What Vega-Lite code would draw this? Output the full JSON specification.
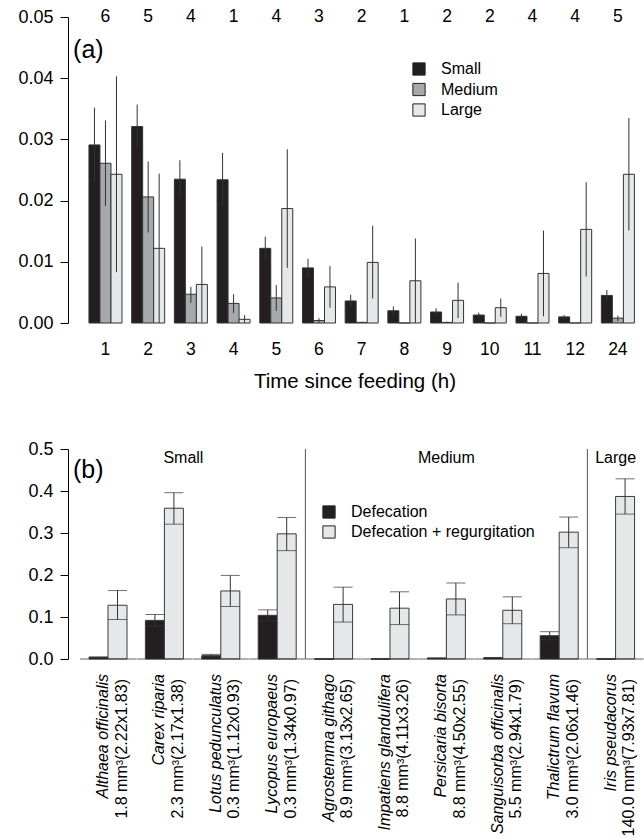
{
  "$schema": "https://vega.github.io/schema/vega-lite/v6.json",
  "padding": {"left": 17, "top": 8, "right": 0, "bottom": 0},
  "spacing": 48,
  "config": {
    "font": "Liberation Sans",
    "view": {"stroke": null},
    "axis": {"grid": false, "labelColor": "#000", "titleColor": "#000", "domainColor": "#000", "tickColor": "#000", "labelFont": "Liberation Sans", "titleFont": "Liberation Sans", "titleFontWeight": "normal"},
    "legend": {"labelFont": "Liberation Sans", "labelColor": "#000"},
    "text": {"color": "#000"}
  },
  "resolve": {"scale": {"x": "independent", "y": "independent", "color": "independent", "xOffset": "independent"}, "legend": {"color": "independent"}},
  "datasets": {
    "tc": [
      {"time": "1", "size": "Small", "mean": 0.0291, "lo": 0.0230, "hi": 0.0352},
      {"time": "1", "size": "Medium", "mean": 0.0261, "lo": 0.0191, "hi": 0.0331},
      {"time": "1", "size": "Large", "mean": 0.0243, "lo": 0.0083, "hi": 0.0403},
      {"time": "2", "size": "Small", "mean": 0.0321, "lo": 0.0285, "hi": 0.0357},
      {"time": "2", "size": "Medium", "mean": 0.0206, "lo": 0.0148, "hi": 0.0264},
      {"time": "2", "size": "Large", "mean": 0.0122, "lo": 0.0, "hi": 0.0244},
      {"time": "3", "size": "Small", "mean": 0.0235, "lo": 0.0204, "hi": 0.0266},
      {"time": "3", "size": "Medium", "mean": 0.0047, "lo": 0.0033, "hi": 0.0059},
      {"time": "3", "size": "Large", "mean": 0.0063, "lo": 0.0001, "hi": 0.0125},
      {"time": "4", "size": "Small", "mean": 0.0234, "lo": 0.0190, "hi": 0.0278},
      {"time": "4", "size": "Medium", "mean": 0.0032, "lo": 0.0016, "hi": 0.0047},
      {"time": "4", "size": "Large", "mean": 0.0006, "lo": 0.0, "hi": 0.0013},
      {"time": "5", "size": "Small", "mean": 0.0122, "lo": 0.0103, "hi": 0.0141},
      {"time": "5", "size": "Medium", "mean": 0.0041, "lo": 0.0020, "hi": 0.0062},
      {"time": "5", "size": "Large", "mean": 0.0187, "lo": 0.0090, "hi": 0.0284},
      {"time": "6", "size": "Small", "mean": 0.0090, "lo": 0.0075, "hi": 0.0105},
      {"time": "6", "size": "Medium", "mean": 0.0004, "lo": 0.0, "hi": 0.0008},
      {"time": "6", "size": "Large", "mean": 0.0059, "lo": 0.0025, "hi": 0.0093},
      {"time": "7", "size": "Small", "mean": 0.0036, "lo": 0.0026, "hi": 0.0046},
      {"time": "7", "size": "Medium", "mean": 0.0001, "lo": 0.0, "hi": 0.0002},
      {"time": "7", "size": "Large", "mean": 0.0099, "lo": 0.0040, "hi": 0.0159},
      {"time": "8", "size": "Small", "mean": 0.0020, "lo": 0.0013, "hi": 0.0027},
      {"time": "8", "size": "Medium", "mean": 0.0, "lo": 0.0, "hi": 0.0},
      {"time": "8", "size": "Large", "mean": 0.0069, "lo": 0.0, "hi": 0.0138},
      {"time": "9", "size": "Small", "mean": 0.0018, "lo": 0.0012, "hi": 0.0024},
      {"time": "9", "size": "Medium", "mean": 0.0001, "lo": 0.0, "hi": 0.0002},
      {"time": "9", "size": "Large", "mean": 0.0037, "lo": 0.0008, "hi": 0.0066},
      {"time": "10", "size": "Small", "mean": 0.0013, "lo": 0.0009, "hi": 0.0017},
      {"time": "10", "size": "Medium", "mean": 0.0, "lo": 0.0, "hi": 0.0},
      {"time": "10", "size": "Large", "mean": 0.0025, "lo": 0.0010, "hi": 0.0040},
      {"time": "11", "size": "Small", "mean": 0.0011, "lo": 0.0007, "hi": 0.0015},
      {"time": "11", "size": "Medium", "mean": 0.0, "lo": 0.0, "hi": 0.0},
      {"time": "11", "size": "Large", "mean": 0.0081, "lo": 0.0011, "hi": 0.0151},
      {"time": "12", "size": "Small", "mean": 0.0010, "lo": 0.0007, "hi": 0.0013},
      {"time": "12", "size": "Medium", "mean": 0.0, "lo": 0.0, "hi": 0.0},
      {"time": "12", "size": "Large", "mean": 0.0153, "lo": 0.0076, "hi": 0.0230},
      {"time": "24", "size": "Small", "mean": 0.0045, "lo": 0.0036, "hi": 0.0054},
      {"time": "24", "size": "Medium", "mean": 0.0008, "lo": 0.0003, "hi": 0.0012},
      {"time": "24", "size": "Large", "mean": 0.0243, "lo": 0.0151, "hi": 0.0335}
    ],
    "counts": [
      {"time": "1", "n": "6"}, {"time": "2", "n": "5"}, {"time": "3", "n": "4"}, {"time": "4", "n": "1"},
      {"time": "5", "n": "4"}, {"time": "6", "n": "3"}, {"time": "7", "n": "2"}, {"time": "8", "n": "1"},
      {"time": "9", "n": "2"}, {"time": "10", "n": "2"}, {"time": "11", "n": "4"}, {"time": "12", "n": "4"},
      {"time": "24", "n": "5"}
    ],
    "seeds": [
      {"species": "Althaea officinalis", "type": "Defecation", "mean": 0.004, "lo": 0.003, "hi": 0.005},
      {"species": "Althaea officinalis", "type": "Defecation + regurgitation", "mean": 0.128, "lo": 0.094, "hi": 0.163},
      {"species": "Carex riparia", "type": "Defecation", "mean": 0.092, "lo": 0.078, "hi": 0.106},
      {"species": "Carex riparia", "type": "Defecation + regurgitation", "mean": 0.359, "lo": 0.321, "hi": 0.396},
      {"species": "Lotus pedunculatus", "type": "Defecation", "mean": 0.008, "lo": 0.006, "hi": 0.011},
      {"species": "Lotus pedunculatus", "type": "Defecation + regurgitation", "mean": 0.162, "lo": 0.125, "hi": 0.199},
      {"species": "Lycopus europaeus", "type": "Defecation", "mean": 0.104, "lo": 0.091, "hi": 0.117},
      {"species": "Lycopus europaeus", "type": "Defecation + regurgitation", "mean": 0.298, "lo": 0.258, "hi": 0.337},
      {"species": "Agrostemma githago", "type": "Defecation", "mean": 0.0, "lo": 0.0, "hi": 0.0},
      {"species": "Agrostemma githago", "type": "Defecation + regurgitation", "mean": 0.130, "lo": 0.088, "hi": 0.171},
      {"species": "Impatiens glandulifera", "type": "Defecation", "mean": 0.0, "lo": 0.0, "hi": 0.0},
      {"species": "Impatiens glandulifera", "type": "Defecation + regurgitation", "mean": 0.121, "lo": 0.082, "hi": 0.160},
      {"species": "Persicaria bisorta", "type": "Defecation", "mean": 0.002, "lo": 0.002, "hi": 0.002},
      {"species": "Persicaria bisorta", "type": "Defecation + regurgitation", "mean": 0.143, "lo": 0.105, "hi": 0.181},
      {"species": "Sanguisorba officinalis", "type": "Defecation", "mean": 0.003, "lo": 0.003, "hi": 0.003},
      {"species": "Sanguisorba officinalis", "type": "Defecation + regurgitation", "mean": 0.116, "lo": 0.084, "hi": 0.148},
      {"species": "Thalictrum flavum", "type": "Defecation", "mean": 0.0555, "lo": 0.046, "hi": 0.065},
      {"species": "Thalictrum flavum", "type": "Defecation + regurgitation", "mean": 0.302, "lo": 0.265, "hi": 0.338},
      {"species": "Iris pseudacorus", "type": "Defecation", "mean": 0.0, "lo": 0.0, "hi": 0.0},
      {"species": "Iris pseudacorus", "type": "Defecation + regurgitation", "mean": 0.387, "lo": 0.345, "hi": 0.429}
    ],
    "species": [
      {"species": "Althaea officinalis", "dims": "1.8 mm³(2.22x1.83)"},
      {"species": "Carex riparia", "dims": "2.3 mm³(2.17x1.38)"},
      {"species": "Lotus pedunculatus", "dims": "0.3 mm³(1.12x0.93)"},
      {"species": "Lycopus europaeus", "dims": "0.3 mm³(1.34x0.97)"},
      {"species": "Agrostemma githago", "dims": "8.9 mm³(3.13x2.65)"},
      {"species": "Impatiens glandulifera", "dims": "8.8 mm³(4.11x3.26)"},
      {"species": "Persicaria bisorta", "dims": "8.8 mm³(4.50x2.55)"},
      {"species": "Sanguisorba officinalis", "dims": "5.5 mm³(2.94x1.79)"},
      {"species": "Thalictrum flavum", "dims": "3.0 mm³(2.06x1.46)"},
      {"species": "Iris pseudacorus", "dims": "140.0 mm³(7.93x7.81)"}
    ]
  },
  "vconcat": [
    {
      "width": 573,
      "height": 306,
      "layer": [
        {
          "data": {"name": "tc"},
          "mark": {"type": "bar", "stroke": "#333", "strokeWidth": 1},
          "encoding": {
            "x": {"field": "time", "type": "nominal",
              "scale": {"domain": ["1","2","3","4","5","6","7","8","9","10","11","12","24"], "paddingInner": 0.227, "paddingOuter": 0.323, "align": 0.76},
              "axis": {"title": "Time since feeding (h)", "labelAngle": 0, "labelFontSize": 17.5, "ticks": false, "tickSize": 0, "domain": false, "labelPadding": 17, "titleFontSize": 20.5, "titlePadding": 13.5}},
            "xOffset": {"field": "size", "type": "nominal", "scale": {"domain": ["Small","Medium","Large"], "paddingInner": 0, "paddingOuter": 0}},
            "y": {"field": "mean", "type": "quantitative", "scale": {"domain": [0, 0.05], "nice": false},
              "axis": {"title": null, "values": [0, 0.01, 0.02, 0.03, 0.04, 0.05], "format": ".2f", "labelFontSize": 18, "tickSize": 8, "labelPadding": 7, "labelFlush": false, "labelOverlap": false}},
            "color": {"field": "size", "type": "nominal", "scale": {"domain": ["Small","Medium","Large"], "range": ["#231f20","#a7a9ac","#e6e7e8"]},
              "legend": {"orient": "none", "legendX": 343, "legendY": 44, "title": null, "symbolType": "square", "symbolSize": 150, "symbolStrokeColor": "#222", "symbolStrokeWidth": 1, "symbolOpacity": 1, "labelFontSize": 16, "labelOffset": 14, "rowPadding": 2.5, "padding": 0}}
          }
        },
        {
          "data": {"name": "tc"},
          "mark": {"type": "rule", "color": "#333", "strokeWidth": 1},
          "encoding": {
            "x": {"field": "time", "type": "nominal"},
            "xOffset": {"field": "size", "type": "nominal"},
            "y": {"field": "lo", "type": "quantitative"},
            "y2": {"field": "hi"}
          }
        },
        {
          "data": {"name": "counts"},
          "mark": {"type": "text", "fontSize": 17.5, "baseline": "middle"},
          "encoding": {
            "x": {"field": "time", "type": "nominal"},
            "y": {"datum": 0.05, "type": "quantitative"},
            "text": {"field": "n"}
          }
        },
        {
          "data": {"values": [{"time": "1", "label": "(a)"}]},
          "mark": {"type": "text", "fontSize": 25, "align": "left", "baseline": "middle"},
          "encoding": {
            "x": {"field": "time", "type": "nominal", "bandPosition": -0.48},
            "y": {"datum": 0.0446, "type": "quantitative"},
            "text": {"field": "label"}
          }
        }
      ]
    },
    {
      "width": 573,
      "height": 210,
      "layer": [
        {
          "data": {"name": "seeds"},
          "mark": {"type": "bar", "stroke": "#3a3a3a", "strokeWidth": 1},
          "encoding": {
            "x": {"field": "species", "type": "nominal",
              "scale": {"domain": ["Althaea officinalis","Carex riparia","Lotus pedunculatus","Lycopus europaeus","Agrostemma githago","Impatiens glandulifera","Persicaria bisorta","Sanguisorba officinalis","Thalictrum flavum","Iris pseudacorus"], "paddingInner": 0.326, "paddingOuter": 0.243, "align": 0.766},
              "axis": null},
            "xOffset": {"field": "type", "type": "nominal", "scale": {"domain": ["Defecation","Defecation + regurgitation"], "paddingInner": 0, "paddingOuter": 0}},
            "y": {"field": "mean", "type": "quantitative", "scale": {"domain": [0, 0.5], "nice": false},
              "axis": {"title": null, "values": [0, 0.1, 0.2, 0.3, 0.4, 0.5], "format": ".1f", "labelFontSize": 18, "tickSize": 8, "labelPadding": 7, "labelFlush": false, "labelOverlap": false}},
            "color": {"field": "type", "type": "nominal", "scale": {"domain": ["Defecation","Defecation + regurgitation"], "range": ["#231f20","#e6e7e8"]},
              "legend": {"orient": "none", "legendX": 253, "legendY": 55, "title": null, "symbolType": "square", "symbolSize": 150, "symbolStrokeColor": "#222", "symbolStrokeWidth": 1, "symbolOpacity": 1, "labelFontSize": 16, "labelOffset": 14, "rowPadding": 2, "padding": 0, "labelLimit": 400}}
          }
        },
        {
          "data": {"name": "seeds"},
          "mark": {"type": "rule", "color": "#333", "strokeWidth": 1},
          "encoding": {
            "x": {"field": "species", "type": "nominal"},
            "xOffset": {"field": "type", "type": "nominal"},
            "y": {"field": "lo", "type": "quantitative"},
            "y2": {"field": "hi"}
          }
        },
        {
          "data": {"name": "seeds"},
          "mark": {"type": "tick", "orient": "horizontal", "color": "#333", "size": 19, "thickness": 1},
          "encoding": {
            "x": {"field": "species", "type": "nominal"},
            "xOffset": {"field": "type", "type": "nominal"},
            "y": {"field": "lo", "type": "quantitative"}
          }
        },
        {
          "data": {"name": "seeds"},
          "mark": {"type": "tick", "orient": "horizontal", "color": "#333", "size": 19, "thickness": 1},
          "encoding": {
            "x": {"field": "species", "type": "nominal"},
            "xOffset": {"field": "type", "type": "nominal"},
            "y": {"field": "hi", "type": "quantitative"}
          }
        },
        {
          "data": {"name": "species"},
          "mark": {"type": "tick", "orient": "horizontal", "color": "#222", "size": 56, "thickness": 1},
          "encoding": {
            "x": {"field": "species", "type": "nominal"},
            "y": {"datum": 0, "type": "quantitative"}
          }
        },
        {
          "data": {"values": [{"species": "Lycopus europaeus"}, {"species": "Thalictrum flavum"}]},
          "mark": {"type": "rule", "color": "#555", "strokeWidth": 1},
          "encoding": {
            "x": {"field": "species", "type": "nominal", "bandPosition": 1.242}
          }
        },
        {
          "data": {"values": [{"species": "Persicaria bisorta", "label": "Medium"}, {"species": "Iris pseudacorus", "label": "Large"}]},
          "mark": {"type": "text", "fontSize": 16, "baseline": "middle"},
          "encoding": {
            "x": {"field": "species", "type": "nominal"},
            "y": {"datum": 0.478, "type": "quantitative"},
            "text": {"field": "label"}
          }
        },
        {
          "data": {"values": [{"species": "Carex riparia", "label": "Small"}]},
          "mark": {"type": "text", "fontSize": 16, "baseline": "middle"},
          "encoding": {
            "x": {"field": "species", "type": "nominal", "bandPosition": 1},
            "y": {"datum": 0.478, "type": "quantitative"},
            "text": {"field": "label"}
          }
        },
        {
          "data": {"name": "species"},
          "mark": {"type": "text", "fontSize": 16, "fontStyle": "italic", "angle": -90, "align": "right", "baseline": "alphabetic", "dx": -15},
          "encoding": {
            "x": {"field": "species", "type": "nominal"},
            "y": {"datum": 0, "type": "quantitative"},
            "text": {"field": "species"}
          }
        },
        {
          "data": {"name": "species"},
          "mark": {"type": "text", "fontSize": 16, "angle": -90, "align": "right", "baseline": "alphabetic", "dx": -20, "dy": 18.5},
          "encoding": {
            "x": {"field": "species", "type": "nominal"},
            "y": {"datum": 0, "type": "quantitative"},
            "text": {"field": "dims"}
          }
        },
        {
          "data": {"values": [{"species": "Althaea officinalis", "label": "(b)"}]},
          "mark": {"type": "text", "fontSize": 25, "align": "left", "baseline": "middle"},
          "encoding": {
            "x": {"field": "species", "type": "nominal", "bandPosition": -0.42},
            "y": {"datum": 0.4507, "type": "quantitative"},
            "text": {"field": "label"}
          }
        }
      ]
    }
  ]
}
